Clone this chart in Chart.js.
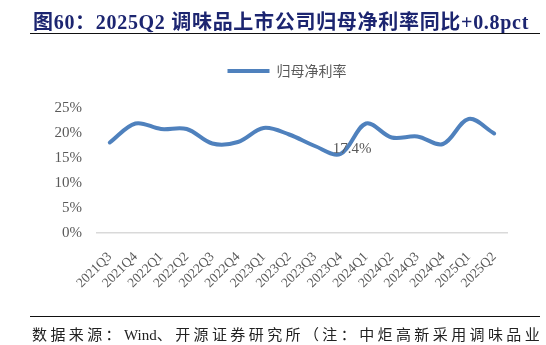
<!DOCTYPE html>
<html>
<head>
<meta charset="utf-8">
<script src="https://cdn.jsdelivr.net/npm/chart.js@4/dist/chart.umd.min.js"></script>
<style>
  html, body { margin: 0; padding: 0; background: #fff; }
  #wrap { position: relative; width: 546px; height: 345px; overflow: hidden; background: #fff; }
  #chart { position: absolute; left: 0; top: 0; }
  .title {
    position: absolute; left: 33px; top: 6px; line-height: 20px;
    font: bold 20px "Liberation Serif", "Noto Sans CJK SC", serif;
    color: #1c2570; white-space: nowrap; letter-spacing: 0.7px;
  }
  .rule { position: absolute; left: 30px; width: 510px; height: 1px; background: #111; }
  .note {
    position: absolute; left: 32px; top: 323px; line-height: 16px;
    font: 15px "Liberation Serif", "Noto Sans CJK SC", serif;
    color: #222; white-space: nowrap; letter-spacing: 3.4px;
  }
  .note .lat { letter-spacing: 0; }
</style>
</head>
<body>
<div id="wrap">
  <canvas id="chart" width="546" height="345"></canvas>
  <div class="title">图60：2025Q2 调味品上市公司归母净利率同比+0.8pct</div>
  <div class="rule" style="top:33px"></div>
  <div class="rule" style="top:316px"></div>
  <div class="note">数据来源：<span class="lat">Wind</span>、开源证券研究所（注：中炬高新采用调味品业</div>
</div>
<script>
// Quarterly net margin attributable to parent (%), listed condiment companies
const quarters = ['2021Q3', '2021Q4', '2022Q1', '2022Q2', '2022Q3', '2022Q4', '2023Q1', '2023Q2',
                  '2023Q3', '2023Q4', '2024Q1', '2024Q2', '2024Q3', '2024Q4', '2025Q1', '2025Q2'];
const netMargin = [18.1, 21.9, 20.8, 20.8, 17.9, 18.2, 21.0, 19.7,
                   17.4, 15.8, 21.9, 19.1, 19.3, 17.8, 22.8, 19.9];
const seriesName = '归母净利率';
const yTickLabels = ['0%', '5%', '10%', '15%', '20%', '25%'];
const labelledPoints = [8]; // quarters that carry a value label

const lineColor = '#4f81bd';
const grey = '#595959';

// Writes the value next to selected points
const valueLabels = {
  id: 'valueLabels',
  afterDatasetsDraw(chart) {
    const meta = chart.getDatasetMeta(0);
    const ctx = chart.ctx;
    ctx.save();
    ctx.font = '15px "Liberation Serif", serif';
    ctx.fillStyle = grey;
    ctx.textAlign = 'left';
    ctx.textBaseline = 'middle';
    labelledPoints.forEach(i => {
      const pt = meta.data[i];
      ctx.fillText(netMargin[i].toFixed(1) + '%', pt.x + 18, pt.y + 3);
    });
    ctx.restore();
  }
};

new Chart(document.getElementById('chart'), {
  type: 'line',
  data: {
    labels: quarters,
    datasets: [{
      label: seriesName,
      data: netMargin,
      borderColor: lineColor,
      backgroundColor: lineColor,
      borderWidth: 4,
      borderCapStyle: 'round',
      borderJoinStyle: 'round',
      pointRadius: 0,
      pointHoverRadius: 0,
      tension: 0.35,
      fill: false
    }]
  },
  options: {
    responsive: false,
    animation: false,
    devicePixelRatio: 1,
    layout: { padding: { left: 40, right: 12, top: 54, bottom: 40 } },
    plugins: {
      legend: {
        position: 'top',
        labels: {
          usePointStyle: true,
          pointStyle: 'line',
          pointStyleWidth: 42,
          padding: 10,
          color: grey,
          font: { family: '"Noto Sans CJK SC"', size: 14 }
        }
      },
      // empty spacer between legend and plot area
      title: {
        display: true,
        text: '',
        weight: 500,
        font: { size: 10, lineHeight: 1.2 },
        padding: { top: 4, bottom: 4 }
      },
      tooltip: { enabled: false }
    },
    scales: {
      x: {
        type: 'category',
        offset: true,
        grid: { display: false, drawTicks: false },
        border: { display: true, color: '#d9d9d9', width: 1.5 },
        ticks: {
          autoSkip: false,
          minRotation: 45,
          maxRotation: 45,
          padding: 16,
          color: grey,
          font: { family: '"Liberation Serif"', size: 13.5 }
        },
        afterFit(scale) { scale.height = 72; }
      },
      y: {
        min: 0,
        max: 25,
        grid: { display: false, drawTicks: false },
        border: { display: false },
        ticks: {
          stepSize: 5,
          padding: 15,
          color: grey,
          font: { family: '"Liberation Serif"', size: 15 },
          callback: (value, index) => yTickLabels[index]
        },
        afterFit(scale) { scale.width = 57; }
      },
      // blank right-hand margin of the plot
      yRight: {
        type: 'linear',
        position: 'right',
        grid: { display: false, drawTicks: false },
        border: { display: false },
        ticks: { display: false },
        afterFit(scale) { scale.width = 27; }
      }
    }
  },
  plugins: [valueLabels]
});
</script>
</body>
</html>
